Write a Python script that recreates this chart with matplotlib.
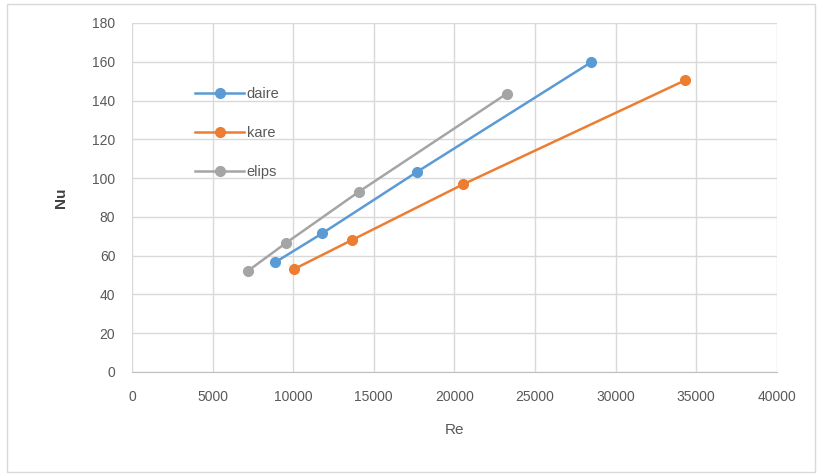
import matplotlib
matplotlib.use("Agg")
import matplotlib.pyplot as plt
from matplotlib.patches import Rectangle

# Re / Nu readings for each cross-section
re_daire = [8870, 11800, 17700, 28490]
nu_daire = [56.5, 71.5, 103.3, 159.8]
re_kare = [10040, 13630, 20540, 34330]
nu_kare = [53.0, 68.0, 96.8, 150.5]
re_elips = [7200, 9580, 14080, 23240]
nu_elips = [52.2, 66.7, 93.0, 143.5]

series_labels = ["daire", "kare", "elips"]
series_colors = ["#5B9BD5", "#ED7D31", "#A5A5A5"]

plt.rcParams['font.family'] = ['Liberation Sans', 'DejaVu Sans']

fig = plt.figure(figsize=(8.22, 4.76), dpi=100)
ax = fig.add_axes([0.1606, 0.2185, 0.7844, 0.7332])

# outer chart border
fig.patches.append(Rectangle((0.008, 0.008), 0.984, 0.984, transform=fig.transFigure,
                             fill=False, edgecolor="#D9D9D9", linewidth=1.0))

data = [(re_daire, nu_daire), (re_kare, nu_kare), (re_elips, nu_elips)]
for (x, y), lab, col in zip(data, series_labels, series_colors):
    ax.plot(x, y, color=col, linewidth=1.8, marker="o", markersize=7,
            label=lab, zorder=3)

ax.set_xlim(0, 40000)
ax.set_ylim(0, 180)
ax.set_xticks(range(0, 40001, 5000))
ax.set_yticks(range(0, 181, 20))
ax.grid(True, color="#D9D9D9", linewidth=1.0)
ax.set_axisbelow(True)

for side in ["top", "right", "left"]:
    ax.spines[side].set_visible(False)
ax.spines["bottom"].set_color("#BFBFBF")

ax.tick_params(axis="both", length=0, labelsize=10, colors="#595959")
ax.tick_params(axis="x", pad=13)
ax.tick_params(axis="y", pad=12)
ax.set_xlabel("Re", fontsize=11, color="#595959", labelpad=14)
ax.set_ylabel("Nu", fontsize=11, color="#404040", fontweight="bold", labelpad=17)

ax.legend(loc="upper left", bbox_to_anchor=(0.077, 0.855), frameon=False,
          handlelength=3.4, handletextpad=0.15, labelspacing=1.72,
          fontsize=10.5, labelcolor="#595959")

fig.savefig("out.png", dpi=100)
